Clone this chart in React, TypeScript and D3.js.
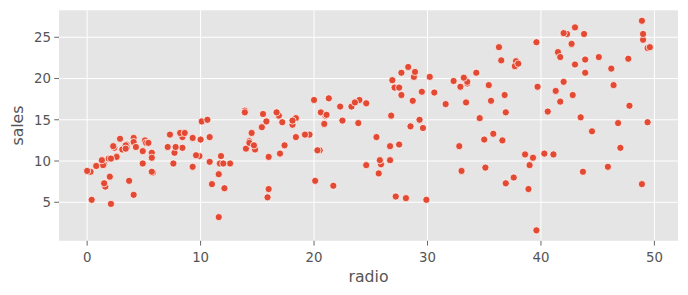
import React from "react";
import * as d3 from "d3";

const radio = [37.8,39.3,45.9,41.3,10.8,48.9,32.8,19.6,2.1,2.6,5.8,24,35.1,7.6,32.9,47.7,36.6,39.6,20.5,23.9,27.7,5.1,15.9,16.9,12.6,3.5,29.3,16.7,27.1,16,28.3,17.4,1.5,20,1.4,4.1,43.8,49.4,26.7,37.7,22.3,33.4,27.7,8.4,25.7,22.5,9.9,41.5,15.8,11.7,3.1,9.6,41.7,46.2,28.8,49.4,28.1,19.2,49.6,29.5,2,42.7,15.5,29.6,42.8,9.3,24.6,14.5,27.5,43.9,30.6,14.3,33,5.7,24.6,43.7,1.6,28.5,29.9,7.7,26.7,4.1,20.3,44.5,43,18.4,27.5,40.6,25.5,47.8,4.9,1.5,33.5,36.5,14,31.6,3.5,21,42.3,41.7,4.3,36.3,10.1,17.2,34.3,46.4,11,0.3,0.4,26.9,8.2,38,15.4,20.6,46.8,35,14.3,0.8,36.9,16,26.8,21.7,2.4,34.6,32.3,11.8,38.9,0,49,12,39.6,2.9,27.2,33.5,38.6,47,39,28.9,25.9,43.9,17,35.4,33.2,5.7,14.8,1.9,7.3,49,40.3,25.8,13.9,8.4,23.3,39.7,21.1,11.6,43.5,1.3,36.9,18.4,18.1,35.8,18.1,36.8,14.7,3.4,37.6,5.2,23.6,10.6,11.6,20.9,20.1,7.1,3.4,48.9,30.2,7.8,2.3,10,2.6,5.4,5.7,43,21.3,45.1,2.1,28.7,13.9,12.1,41.1,10.8,4.1,42,35.6,3.7,4.9,9.3,42,8.6];
const sales = [22.1,10.4,9.3,18.5,12.9,7.2,11.8,13.2,4.8,10.6,8.6,17.4,9.2,9.7,19,22.4,12.5,24.4,11.3,14.6,18,12.5,5.6,15.5,9.7,12,15,15.9,18.9,10.5,21.4,11.9,9.6,17.4,9.5,12.8,25.4,14.7,10.1,21.5,16.6,17.1,20.7,12.9,8.5,14.9,10.6,23.2,14.8,9.7,11.4,10.7,22.6,21.2,20.2,23.7,5.5,13.2,23.8,18.4,8.1,24.2,15.7,14,18,9.3,9.5,13.4,18.9,22.3,18.3,12.4,8.8,11,17,8.7,6.9,14.2,5.3,11,11.8,12.3,11.3,13.6,21.7,15.2,12,16,12.9,16.7,11.2,7.3,19.4,22.2,11.5,16.9,11.7,15.5,25.4,17.2,11.7,23.8,14.8,14.7,20.7,19.2,7.2,8.7,5.3,19.8,13.4,21.8,14.1,15.9,14.6,12.6,12.2,9.4,15.9,6.6,15.5,7,11.6,15.2,19.7,10.6,6.6,8.8,24.7,9.7,1.6,12.7,5.7,19.6,10.8,11.6,9.5,20.8,9.6,20.7,10.9,19.2,20.1,10.4,11.4,10.3,13.2,25.4,10.9,10.1,16.1,11.6,16.6,19,15.6,3.2,15.3,10.1,7.3,12.9,14.4,13.3,14.9,18,11.9,11.9,8,12.2,17.1,15,8.4,14.5,7.6,11.7,11.5,27,20.2,11.7,11.8,12.6,10.5,12.2,8.7,26.2,17.6,22.6,10.3,17.3,15.9,6.7,10.8,9.9,5.9,19.6,17.3,7.6,9.7,12.8,25.5,13.4];

const xTicks = [0, 10, 20, 30, 40, 50];
const yTicks = [5, 10, 15, 20, 25];

const W = 688, H = 295;
const left = 59, right = 678, top = 10.3, bottom = 240.8;

export default function App() {
  const xExt = d3.extent(radio) as [number, number];
  const yExt = d3.extent(sales) as [number, number];
  const xm = (xExt[1] - xExt[0]) * 0.05;
  const ym = (yExt[1] - yExt[0]) * 0.05;
  const x = d3.scaleLinear().domain([xExt[0] - xm, xExt[1] + xm]).range([left, right]);
  const y = d3.scaleLinear().domain([yExt[0] - ym, yExt[1] + ym]).range([bottom, top]);
  const font = "'DejaVu Sans', sans-serif";
  return (
    <svg width={W} height={H} style={{ position: "absolute", left: 0, top: 0, background: "#fff" }}>
      <rect x={left} y={top} width={right - left} height={bottom - top} fill="#E5E5E5" />
      {xTicks.map((t) => (
        <line key={"gx" + t} x1={x(t)} x2={x(t)} y1={top} y2={bottom} stroke="#fff" strokeWidth={1} />
      ))}
      {yTicks.map((t) => (
        <line key={"gy" + t} x1={left} x2={right} y1={y(t)} y2={y(t)} stroke="#fff" strokeWidth={1} />
      ))}
      {radio.map((r, i) => (
        <circle key={i} cx={x(r)} cy={y(sales[i])} r={3.6} fill="#E24A33" stroke="#fff" strokeWidth={0.75} />
      ))}
      {xTicks.map((t) => (
        <g key={"tx" + t}>
          <line x1={x(t)} x2={x(t)} y1={bottom} y2={bottom + 4.8} stroke="#555" strokeWidth={0.9} />
          <text x={x(t)} y={262} textAnchor="middle" fontFamily={font} fontSize={13.3} fill="#555">{t}</text>
        </g>
      ))}
      {yTicks.map((t) => (
        <g key={"ty" + t}>
          <line x1={left - 4.8} x2={left} y1={y(t)} y2={y(t)} stroke="#555" strokeWidth={0.9} />
          <text x={left - 8} y={y(t)} dy="0.36em" textAnchor="end" fontFamily={font} fontSize={13.3} fill="#555">{t}</text>
        </g>
      ))}
      <text x={(left + right) / 2} y={282} textAnchor="middle" fontFamily={font} fontSize={15.7} fill="#555">radio</text>
      <text transform={`translate(23,${(top + bottom) / 2}) rotate(-90)`} textAnchor="middle" fontFamily={font} fontSize={15.7} fill="#555">sales</text>
    </svg>
  );
}
